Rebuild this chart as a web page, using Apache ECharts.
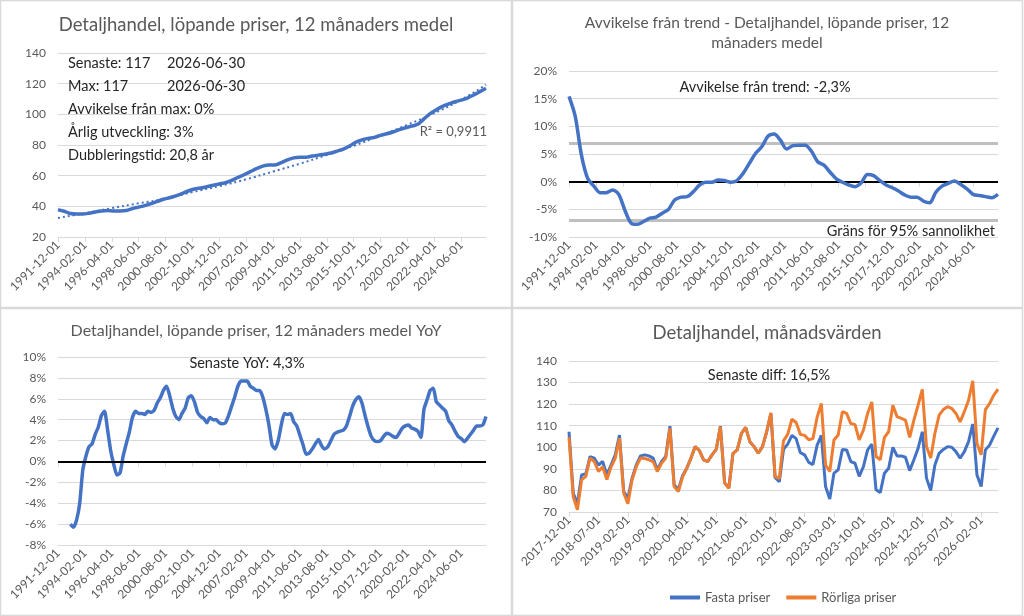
<!DOCTYPE html>
<html>
<head>
<meta charset="utf-8">
<script src="https://cdn.jsdelivr.net/npm/echarts@6/dist/echarts.min.js"></script>
<style>
  html, body { margin: 0; padding: 0; background: #fff; }
  #container { width: 1024px; height: 616px; }
</style>
</head>
<body>
<div id="container"></div>
<script>
var myChart = echarts.init(document.getElementById('container'));
var FONT = 'Lato, "Noto Sans", sans-serif';

// monthly category labels
function monthList(y, m, count) {
  var out = [];
  for (var i = 0; i < count; i++) {
    var k = m - 1 + i;
    var mm = k % 12 + 1;
    var yy = y + Math.floor(k / 12);
    out.push(yy + '-' + (mm < 10 ? '0' : '') + mm + '-01');
  }
  return out;
}
var longMonths = monthList(1991, 12, 415);   // 1991-12 .. 2026-06
var shortMonths = monthList(2017, 12, 103);  // 2017-12 .. 2026-06

// 12 month average level, read every 6 months from 1991-12
var levelStep = 6;
var levelVals = [37.8, 36.8, 35.3, 35, 35, 35.5, 36.3, 37, 37.3, 37,
  37, 37.3, 38.5, 39.5, 40.5, 41.8, 43.2, 44.6, 45.6, 46.8,
  48.3, 50, 51.3, 52, 52.8, 53.7, 54.6, 55.5, 57, 58.8,
  60.6, 62.6, 64.6, 66.2, 67, 67, 68.5, 70.3, 71.6, 72,
  72, 72.8, 73.4, 74, 74.8, 76, 77.3, 79.3, 81.8, 83.3,
  84.3, 85, 86.3, 87.3, 88.5, 90, 91.2, 92.3, 93.5, 97,
  100.5, 103, 105.2, 106.8, 108.2, 109.3, 110.6, 112.6, 114.8, 117];

// dotted trend line, read at the tick months
var trendIdx = [0, 26, 52, 78, 104, 130, 156, 182, 208, 234, 260, 286, 312, 338, 364, 390, 414];
var trendVals = [32.4, 35.5, 38.8, 42, 45, 49.3, 53.2, 57.6, 62.7, 67.8, 73.5, 79.5, 86.2, 93.2, 100.8, 109.5, 119.3];

// deviation from trend (%), every 6 months from 1991-12
var devStep = 6;
var devVals = [15.4, 11.8, 4.8, 0.6, -0.8, -2, -2.0, -1.5, -2.3, -5.2,
  -7.5, -7.7, -7.2, -6.6, -6.4, -5.7, -5, -3.3, -2.8, -2.7,
  -1.8, -0.6, -0.1, -0.1, 0.3, 0.2, -0.1, 0.2, 1.5, 3.3,
  5.1, 6.3, 8.2, 8.6, 7.5, 5.9, 6.5, 6.6, 6.6, 5.5,
  3.6, 3, 1.7, 0.5, -0.1, -0.6, -0.9, -0.2, 1.3, 1.1,
  0.2, -0.6, -1.1, -1.7, -2.4, -2.8, -2.8, -3.5, -3.8, -1.9,
  -0.8, -0.3, 0.1, -0.5, -1.3, -2.3, -2.5, -2.7, -2.9, -2.3];
var devLimit = 7;

// YoY (%), every 3 months from 1992-12
var yoyStart = 12, yoyStep = 3;
var yoyVals = [-6.0, -6.3, -5.6, -4.0, -0.8, 0.5, 1.4, 1.7, 2.6, 3.3,
  4.4, 4.8, 3.0, 1.0, -0.3, -1.3, -1.1, 0.5, 1.7, 2.8,
  4.2, 4.8, 4.6, 4.6, 4.5, 4.8, 4.7, 4.9, 5.6, 6.1,
  6.8, 7.2, 6.3, 5.1, 4.3, 4.0, 4.6, 5.1, 6.1, 6.3,
  5.7, 4.7, 4.3, 4.1, 3.7, 4.2, 4.0, 4.0, 3.7, 3.6,
  3.7, 4.4, 5.3, 6.2, 7.2, 7.7, 7.7, 7.7, 7.2, 7.0,
  6.8, 6.8, 6.2, 5.0, 3.5, 1.6,
  1.2, 2.0, 3.5, 4.6, 4.5, 4.6, 3.8, 3.4, 2.5, 1.6,
  0.7, 0.8, 1.2, 1.7, 2.1, 1.5, 1.2, 1.4, 2.0, 2.6,
  2.8, 2.9, 3.0, 3.4, 4.3, 5.3, 5.9, 6.2, 5.6, 4.4,
  3.3, 2.4, 2.0, 1.9, 2.0, 2.4, 2.7, 2.6, 2.4, 2.3,
  2.7, 3.2, 3.4, 3.5, 3.2, 3.1, 2.9, 2.3, 5.0, 5.9,
  6.8, 7.0, 5.7, 5.4, 5.1, 4.8, 3.9, 3.5, 2.9, 2.4,
  2.2, 1.9, 2.2, 2.6, 3.0, 3.4, 3.4, 3.5, 4.3];

// monthly values 2017-12 .. 2026-06
var fastaPriser = [107.2, 78.8, 73.8, 87.2, 87.7, 95.7, 95, 91.8, 93.4, 87.2,
  91.8, 96.5, 105.7, 79.5, 76.5, 85.7, 91.8, 96, 96.5, 96,
  95, 89.5, 93.4, 95.7, 109.8, 82.6, 80.3, 86.8, 90.3, 95,
  100.3, 98.5, 94.2, 93.4, 96.5, 99, 109.8, 83.6, 81.2, 97.2,
  98.8, 106.5, 109.2, 102.6, 100.3, 97.2, 100.3, 107.2, 115.7, 86,
  84, 99, 101.5, 105.5, 104, 97.5, 96.5, 93, 92, 101,
  105.5, 81.8, 76, 88, 89.5, 99, 98.8, 93.4, 92.6, 86.5,
  91, 98.8, 101.5, 80.3, 79, 88, 90.3, 100, 96, 96,
  95.4, 89.2, 94.2, 99.5, 107.2, 85.7, 80, 91.8, 97.2, 99,
  100.3, 100, 98, 94.9, 98, 102.6, 110.8, 87.2, 81.8, 98.8,
  101, 105.2, 109];
var rorligaPriser = [104.6, 77.2, 71, 84.9, 86.5, 95, 93.4, 88.8, 91, 85,
  90.8, 95, 104.2, 78.8, 73.8, 84.9, 91, 95, 94.8, 94.2,
  93.4, 88.8, 92.6, 95, 108.8, 81.8, 79.5, 86.2, 90.3, 95,
  100.3, 98.5, 94.2, 93.4, 96.5, 99, 109.5, 83.4, 81, 97.2,
  98.8, 106.5, 109.2, 102.6, 100.3, 97.2, 100.3, 107.2, 116, 86.5,
  85.5, 103, 106, 113, 111.5, 106, 105.5, 103.5, 104, 114,
  120.3, 91.8, 88.8, 103.4, 105.7, 116.5, 115.7, 111, 110.5, 103.4,
  108, 115.7, 121, 95.7, 94.2, 104.6, 107.2, 119.5, 114.2, 113.4,
  112.6, 104.6, 112.6, 119.5, 126.8, 100.3, 95, 106.5, 114.9, 117.5,
  118.8, 118, 115.7, 111.8, 116.5, 121.8, 130.8, 101.8, 96.5, 117.5,
  120.3, 124.2, 127];

function stepped(vals, start, step) {
  return vals.map(function (v, i) { return [start + i * step, v]; });
}

var BLUE = '#4472C4', ORANGE = '#ED7D31', GRID = '#D9D9D9', LABEL = '#595959', TXT = '#262626';

function xAxisFor(gi, cats, every) {
  return {
    type: 'category', gridIndex: gi, data: cats, boundaryGap: false,
    axisLine: { lineStyle: { color: GRID, width: 1 } },
    axisTick: { show: true, interval: every - 1, length: 5, lineStyle: { color: GRID } },
    axisLabel: { interval: every - 1, rotate: 45, color: LABEL, fontSize: 12, fontFamily: FONT, margin: 6 },
    splitLine: { show: false }
  };
}
function yAxisFor(gi, min, max, interval, fmt) {
  return {
    type: 'value', gridIndex: gi, min: min, max: max, interval: interval,
    axisLine: { show: false }, axisTick: { show: false },
    axisLabel: { color: LABEL, fontSize: 12, fontFamily: FONT, margin: 12, formatter: fmt || '{value}' },
    splitLine: { lineStyle: { color: GRID, width: 1 } }
  };
}
function txt(x, y, s, size, color, align) {
  return { type: 'text', x: x, y: y, silent: true, z: 100,
    style: { text: s, fill: color, font: size + 'px ' + FONT, align: align || 'left', verticalAlign: 'middle' } };
}

var option = {
  backgroundColor: '#fff',
  animation: false,
  grid: [
    { left: 58, top: 53, width: 428, height: 184 },
    { left: 569, top: 71, width: 429, height: 166 },
    { left: 58, top: 357, width: 428, height: 188 },
    { left: 569, top: 361, width: 429, height: 151 }
  ],
  xAxis: [
    xAxisFor(0, longMonths, 26),
    xAxisFor(1, longMonths, 26),
    xAxisFor(2, longMonths, 26),
    xAxisFor(3, shortMonths, 7)
  ],
  yAxis: [
    yAxisFor(0, 20, 140, 20),
    yAxisFor(1, -10, 20, 5, '{value}%'),
    yAxisFor(2, -8, 10, 2, '{value}%'),
    yAxisFor(3, 70, 140, 10)
  ],
  legend: {
    data: ['Fasta priser', 'Rörliga priser'],
    left: 665, top: 586, icon: 'rect', itemWidth: 30, itemHeight: 4, itemGap: 16,
    textStyle: { color: LABEL, fontSize: 13, fontFamily: FONT }
  },
  series: [
    { type: 'line', name: 'Nivå', xAxisIndex: 0, yAxisIndex: 0, showSymbol: false, smooth: 0.3,
      data: stepped(levelVals, 0, levelStep), lineStyle: { color: BLUE, width: 3.5 }, itemStyle: { color: BLUE }, z: 3 },
    { type: 'line', name: 'Trend', xAxisIndex: 0, yAxisIndex: 0, showSymbol: false, smooth: true,
      data: trendIdx.map(function (m, i) { return [m, trendVals[i]]; }),
      lineStyle: { color: BLUE, width: 2, type: [2, 3] }, itemStyle: { color: BLUE }, z: 2 },
    { type: 'line', name: 'Avvikelse', xAxisIndex: 1, yAxisIndex: 1, showSymbol: false, smooth: 0.3,
      data: stepped(devVals, 0, devStep), lineStyle: { color: BLUE, width: 3.5 }, itemStyle: { color: BLUE }, z: 3,
      markLine: { silent: true, symbol: 'none', label: { show: false }, z: 1,
        data: [
          { yAxis: devLimit, lineStyle: { color: '#BFBFBF', width: 3, type: 'solid' } },
          { yAxis: -devLimit, lineStyle: { color: '#BFBFBF', width: 3, type: 'solid' } },
          { yAxis: 0, lineStyle: { color: '#000', width: 2, type: 'solid' } }
        ] } },
    { type: 'line', name: 'YoY', xAxisIndex: 2, yAxisIndex: 2, showSymbol: false, smooth: 0.2,
      data: stepped(yoyVals, yoyStart, yoyStep), lineStyle: { color: BLUE, width: 3.5 }, itemStyle: { color: BLUE }, z: 3,
      markLine: { silent: true, symbol: 'none', label: { show: false },
        data: [{ yAxis: 0, lineStyle: { color: '#000', width: 2, type: 'solid' } }] } },
    { type: 'line', name: 'Fasta priser', xAxisIndex: 3, yAxisIndex: 3, showSymbol: false,
      data: fastaPriser, lineStyle: { color: BLUE, width: 3 }, itemStyle: { color: BLUE }, z: 3 },
    { type: 'line', name: 'Rörliga priser', xAxisIndex: 3, yAxisIndex: 3, showSymbol: false,
      data: rorligaPriser, lineStyle: { color: ORANGE, width: 3 }, itemStyle: { color: ORANGE }, z: 4 }
  ],
  graphic: [
    { type: 'rect', silent: true, shape: { x: 0.5, y: 0.5, width: 511, height: 307 }, style: { fill: 'none', stroke: GRID, lineWidth: 1.5 } },
    { type: 'rect', silent: true, shape: { x: 512.5, y: 0.5, width: 510, height: 307 }, style: { fill: 'none', stroke: GRID, lineWidth: 1.5 } },
    { type: 'rect', silent: true, shape: { x: 0.5, y: 308.5, width: 511, height: 307 }, style: { fill: 'none', stroke: GRID, lineWidth: 1.5 } },
    { type: 'rect', silent: true, shape: { x: 512.5, y: 308.5, width: 510, height: 307 }, style: { fill: 'none', stroke: GRID, lineWidth: 1.5 } },

    txt(256, 25, 'Detaljhandel, löpande priser, 12 månaders medel', 18.5, LABEL, 'center'),
    txt(68, 63, 'Senaste: 117', 14.5, TXT),
    txt(167, 63, '2026-06-30', 14.5, TXT),
    txt(68, 86.5, 'Max: 117', 14.5, TXT),
    txt(167, 86.5, '2026-06-30', 14.5, TXT),
    txt(68, 109, 'Avvikelse från max: 0%', 14.5, TXT),
    txt(68, 132, 'Årlig utveckling: 3%', 14.5, TXT),
    txt(68, 155, 'Dubbleringstid: 20,8 år', 14.5, TXT),
    txt(487, 132, 'R² = 0,9911', 13, LABEL, 'right'),

    txt(767, 23, 'Avvikelse från trend - Detaljhandel, löpande priser, 12', 15.5, LABEL, 'center'),
    txt(767, 43, 'månaders medel', 15.5, LABEL, 'center'),
    txt(765, 87, 'Avvikelse från trend: -2,3%', 14.5, TXT, 'center'),
    txt(995, 231, 'Gräns för 95% sannolikhet', 14.5, TXT, 'right'),

    txt(256, 331, 'Detaljhandel, löpande priser, 12 månaders medel YoY', 16, LABEL, 'center'),
    txt(247, 363, 'Senaste YoY: 4,3%', 14.5, TXT, 'center'),

    txt(767, 333, 'Detaljhandel, månadsvärden', 18.5, LABEL, 'center'),
    txt(769, 375, 'Senaste diff: 16,5%', 14.5, TXT, 'center')
  ]
};

myChart.setOption(option);
</script>
</body>
</html>
